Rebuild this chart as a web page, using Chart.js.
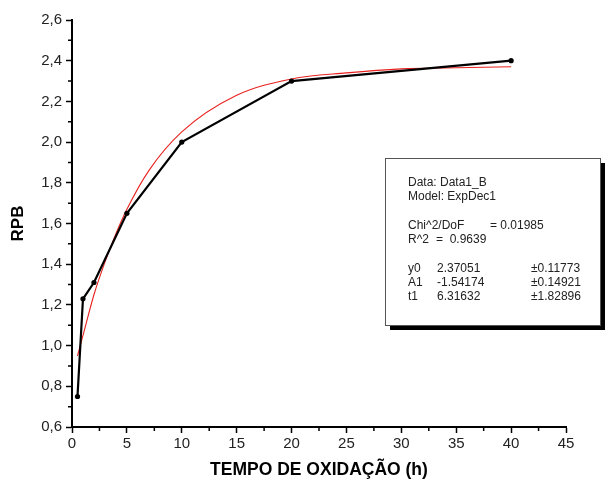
<!DOCTYPE html>
<html>
<head>
<meta charset="utf-8">
<script src="https://cdn.jsdelivr.net/npm/chart.js@4/dist/chart.umd.min.js"></script>
<style>
  html, body { margin: 0; padding: 0; background: #fff; }
  #wrap { width: 609px; height: 482px; }
</style>
</head>
<body>
<div id="wrap"><canvas id="chart" width="609" height="482"></canvas></div>
<script>
// measured points (black)
const hours = [0.5, 1, 2, 5, 10, 20, 40];
const rpb = [0.75, 1.23, 1.31, 1.65, 2.0, 2.3, 2.4];

// red fit curve
const fitHours = [0.5, 1, 2, 3, 4, 5, 7, 10, 15, 20, 25, 30, 35, 40];
const fitRpb = [0.95, 1.05, 1.25, 1.41, 1.55, 1.67, 1.86, 2.05, 2.23, 2.31, 2.34, 2.36, 2.365, 2.37];

// text of the fit box
const boxHead = ['Data: Data1_B', 'Model: ExpDec1'];
const boxStats = [['Chi^2/DoF', '= 0.01985'], ['R^2', '=  0.9639']];
const boxParams = [
  ['y0', '2.37051', '\u00b10.11773'],
  ['A1', '-1.54174', '\u00b10.14921'],
  ['t1', '6.31632', '\u00b11.82896'],
];

const toPoints = (xs, ys) => xs.map((x, i) => ({x: x, y: ys[i]}));

const FONT = '"Liberation Sans", Arial, sans-serif';

// short ticks for the unlabelled steps
const minorTicks = {
  id: 'minorTicks',
  afterDraw(chart) {
    const ctx = chart.ctx;
    ctx.save();
    ctx.strokeStyle = '#000';
    ctx.lineWidth = 1.5;
    const x = chart.scales.x;
    const y = chart.scales.y;
    ctx.beginPath();
    x.ticks.forEach((t, i) => {
      if (t.label !== '') return;
      const px = x.getPixelForTick(i);
      ctx.moveTo(px, x.top);
      ctx.lineTo(px, x.top + 4);
    });
    y.ticks.forEach((t, i) => {
      if (t.label !== '') return;
      const py = y.getPixelForTick(i);
      ctx.moveTo(y.right, py);
      ctx.lineTo(y.right - 4, py);
    });
    ctx.stroke();
    ctx.restore();
  }
};

// draws the Origin style fit report box
const fitBox = {
  id: 'fitBox',
  afterDraw(chart) {
    const ctx = chart.ctx;
    ctx.save();
    ctx.fillStyle = '#000';
    ctx.fillRect(390, 163, 215, 167);
    ctx.fillStyle = '#fff';
    ctx.fillRect(385.5, 158.5, 215, 167);
    ctx.strokeStyle = '#555';
    ctx.lineWidth = 1;
    ctx.strokeRect(385.5, 158.5, 215, 167);

    ctx.fillStyle = '#222';
    ctx.font = '12px ' + FONT;
    ctx.textBaseline = 'middle';
    ctx.fillText(boxHead[0], 408, 183);
    ctx.fillText(boxHead[1], 408, 197);
    ctx.fillText(boxStats[0][0], 408, 226);
    ctx.fillText(boxStats[0][1], 490, 226);
    ctx.fillText(boxStats[1][0], 408, 240);
    ctx.fillText(boxStats[1][1], 436, 240);
    boxParams.forEach((row, i) => {
      const y = 269 + i * 14;
      ctx.fillText(row[0], 408, y);
      ctx.fillText(row[1], 437, y);
      ctx.fillText(row[2], 531, y);
    });
    ctx.restore();
  }
};

const majorOnly = (c) => (c.tick && c.tick.label === '' ? 'rgba(0,0,0,0)' : '#000');

new Chart(document.getElementById('chart'), {
  type: 'line',
  data: {
    datasets: [
      {
        data: toPoints(hours, rpb),
        borderColor: '#000',
        backgroundColor: '#000',
        borderWidth: 2.2,
        pointRadius: 2.6,
        pointBorderWidth: 0,
        tension: 0,
      },
      {
        data: toPoints(fitHours, fitRpb),
        borderColor: '#e8211e',
        borderWidth: 1.1,
        pointRadius: 0,
        cubicInterpolationMode: 'monotone',
      },
    ]
  },
  options: {
    responsive: false,
    animation: false,
    layout: {padding: {left: 0, top: 20, right: 43, bottom: 0}},
    plugins: {legend: {display: false}, tooltip: {enabled: false}},
    scales: {
      x: {
        type: 'linear',
        min: 0,
        max: 45,
        afterFit: (scale) => { scale.height = 55; },
        border: {color: '#000', width: 2},
        grid: {drawOnChartArea: false, tickLength: 6, tickColor: majorOnly, tickWidth: 1.5},
        ticks: {
          stepSize: 2.5,
          autoSkip: false,
          maxRotation: 0,
          padding: 2,
          color: '#222',
          font: {family: FONT, size: 15},
          callback: (v) => (v % 5 === 0 ? String(v) : ''),
        },
        title: {
          display: true,
          text: 'TEMPO DE OXIDAÇÃO (h)',
          color: '#000',
          font: {family: FONT, size: 17.5, weight: 'bold'},
          padding: {top: 0, bottom: 1},
        },
      },
      y: {
        min: 0.6,
        max: 2.6,
        afterFit: (scale) => { scale.width = 72; },
        border: {color: '#000', width: 2},
        grid: {drawOnChartArea: false, tickLength: 6, tickColor: majorOnly, tickWidth: 1.5},
        ticks: {
          stepSize: 0.1,
          autoSkip: false,
          padding: 4,
          color: '#222',
          font: {family: FONT, size: 15},
          callback: (v) => (Math.round(v * 10) % 2 === 0 ? v.toFixed(1).replace('.', ',') : ''),
        },
        title: {
          display: true,
          text: 'RPB',
          color: '#000',
          font: {family: FONT, size: 17, weight: 'bold'},
          padding: {top: 8, bottom: 0},
        },
      },
    },
  },
  plugins: [minorTicks, fitBox],
});
</script>
</body>
</html>
